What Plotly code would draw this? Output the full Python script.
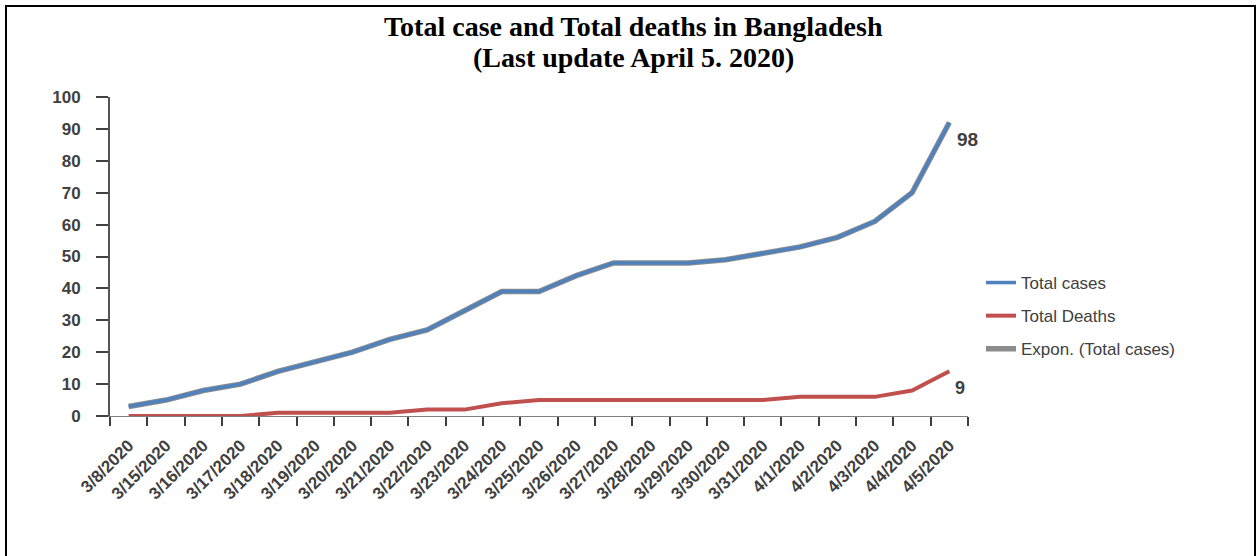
import plotly.graph_objects as go

dates = ["3/8/2020", "3/15/2020", "3/16/2020", "3/17/2020", "3/18/2020", "3/19/2020",
         "3/20/2020", "3/21/2020", "3/22/2020", "3/23/2020", "3/24/2020", "3/25/2020",
         "3/26/2020", "3/27/2020", "3/28/2020", "3/29/2020", "3/30/2020", "3/31/2020",
         "4/1/2020", "4/2/2020", "4/3/2020", "4/4/2020", "4/5/2020"]
total_cases = [3, 5, 8, 10, 14, 17, 20, 24, 27, 33, 39, 39, 44, 48, 48, 48, 49, 51, 53, 56, 61, 70, 92]
total_deaths = [0, 0, 0, 0, 1, 1, 1, 1, 2, 2, 4, 5, 5, 5, 5, 5, 5, 5, 6, 6, 6, 8, 14]
expon_cases = [3, 5, 8, 10, 14, 17, 20, 24, 27, 33, 39, 39, 44, 48, 48, 48, 49, 51, 53, 56, 61, 70, 92]
end_label_cases = "98"
end_label_deaths = "9"
title_lines = ["Total case and Total deaths in Bangladesh", "(Last update April 5. 2020)"]

L, R, T, B = 110, 968, 97, 416
PW, PH = R - L, B - T


def px_x(p):
    return (p - L) / PW


def px_y(p):
    return (B - p) / PH


fig = go.Figure()
fig.add_trace(go.Scatter(x=dates, y=expon_cases, mode="lines", name="Expon. (Total cases)",
                         line=dict(color="#8c8c8c", width=5.5), legendrank=3, legendgroup="c"))
fig.add_trace(go.Scatter(x=dates, y=total_cases, mode="lines", name="Total cases",
                         line=dict(color="#4F81BD", width=3.5), legendrank=1, legendgroup="a"))
fig.add_trace(go.Scatter(x=dates, y=total_deaths, mode="lines", name="Total Deaths",
                         line=dict(color="#C0504D", width=4), legendrank=2, legendgroup="b"))

annotations = []
for i, t in enumerate(title_lines):
    annotations.append(dict(text="<b>" + t + "</b>", xref="paper", yref="paper",
                            x=px_x(633), y=px_y(27 + 30 * i),
                            xanchor="center", yanchor="middle", showarrow=False,
                            font=dict(family="Liberation Serif", size=28, color="black")))
annotations.append(dict(text="<b>" + end_label_cases + "</b>", x=dates[-1], y=total_cases[-1],
                        xref="x", yref="y", xanchor="left", yanchor="top", showarrow=False,
                        xshift=6, yshift=-4,
                        font=dict(family="Liberation Sans", size=19, color="#404040")))
annotations.append(dict(text="<b>" + end_label_deaths + "</b>", x=dates[-1], y=total_deaths[-1],
                        xref="x", yref="y", xanchor="left", yanchor="top", showarrow=False,
                        xshift=4, yshift=-5,
                        font=dict(family="Liberation Sans", size=18, color="#404040")))

fig.update_layout(
    width=1257, height=556,
    margin=dict(l=L, r=1257 - R, t=T, b=556 - B, autoexpand=False),
    paper_bgcolor="white", plot_bgcolor="white",
    annotations=annotations,
    legend=dict(x=px_x(981), y=px_y(316), xanchor="left", yanchor="middle",
                font=dict(family="Liberation Sans", size=17, color="#404040"),
                tracegroupgap=8, itemwidth=30),
    showlegend=True,
    xaxis=dict(type="category", range=[-0.5, 22.5], tickson="boundaries", automargin=False,
               showgrid=False, zeroline=False, showline=True, linecolor="#808080", linewidth=1,
               ticks="outside", ticklen=9, tickcolor="#404040", tickwidth=2,
               tickangle=-45, tickprefix="<b>", ticksuffix="</b>", ticklabelstandoff=12,
               tickfont=dict(family="Liberation Sans", size=17, color="#404040")),
    yaxis=dict(range=[0, 100], dtick=10, showgrid=False, zeroline=False, automargin=False,
               showline=True, linecolor="#555555", linewidth=2,
               ticks="outside", ticklen=12, tickcolor="#404040", tickwidth=2,
               ticklabelstandoff=12, tickprefix="<b>", ticksuffix="</b>",
               tickfont=dict(family="Liberation Sans", size=17, color="#404040")),
    shapes=[dict(type="rect", xref="paper", yref="paper",
                 x0=px_x(6), x1=px_x(1255), y0=px_y(570), y1=px_y(6),
                 line=dict(color="black", width=2), fillcolor="rgba(0,0,0,0)", layer="above")],
)

fig.write_html("out.html", config={"displayModeBar": False},
               post_script="document.body.style.margin='0';document.body.style.overflow='hidden';")
